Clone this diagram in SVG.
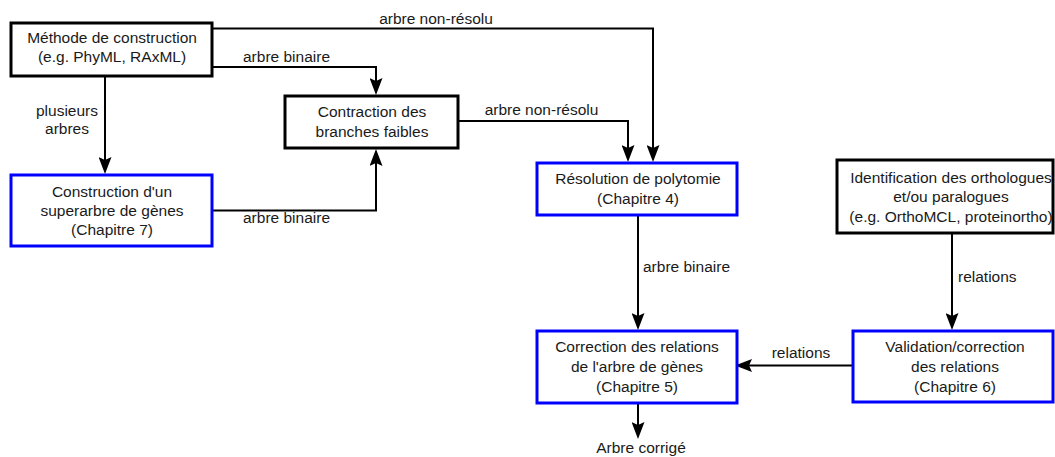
<svg xmlns="http://www.w3.org/2000/svg" width="1055" height="457" viewBox="0 0 1055 457">
<style>
text{font-family:"Liberation Sans",Arial,sans-serif;font-size:15.5px;fill:#1a1a1a}
.c{text-anchor:middle}
.bk{fill:#fff;stroke:#000;stroke-width:3}
.bl{fill:#fff;stroke:#0000ff;stroke-width:3}
.e{fill:none;stroke:#000;stroke-width:2;marker-end:url(#arr)}
</style>
<defs>
<marker id="arr" markerUnits="userSpaceOnUse" viewBox="0 0 17 13" markerWidth="17" markerHeight="13" refX="3" refY="6.5" orient="auto">
<path d="M17,6.5 L0,0 L3,6.5 L0,13 Z" fill="#000"/>
</marker>
</defs>
<rect width="1055" height="457" fill="#fff"/>
<g id="connectors">
<path class="e" d="M212,28.5 H653 V148"/>
<path class="e" d="M212,67 H376 V81"/>
<path class="e" d="M105,76 V160"/>
<path class="e" d="M212,210.5 H376 V163"/>
<path class="e" d="M458,121 H628 V148"/>
<path class="e" d="M638,215 V316"/>
<path class="e" d="M638,403 V425"/>
<path class="e" d="M952,233 V316"/>
<path class="e" d="M853,365.5 H749"/>
<text class="c" x="436" y="23.5">arbre non-résolu</text>
<text class="c" x="286.5" y="62">arbre binaire</text>
<text class="c" x="67" y="115.5">plusieurs</text>
<text class="c" x="67" y="134">arbres</text>
<text class="c" x="286.5" y="223">arbre binaire</text>
<text class="c" x="541.5" y="115">arbre non-résolu</text>
<text x="643" y="271.5">arbre binaire</text>
<text x="958" y="281.5">relations</text>
<text class="c" x="801" y="358">relations</text>
<text class="c" x="641" y="452.5">Arbre corrigé</text>
</g>
<g id="methode">
<rect class="bk" x="11" y="23" width="201" height="53"/>
<text class="c" x="112" y="42.5">Méthode de construction</text>
<text class="c" x="112" y="62">(e.g. PhyML, RAxML)</text>
</g>
<g id="contraction">
<rect class="bk" x="285" y="96" width="173" height="52"/>
<text class="c" x="372" y="117">Contraction des</text>
<text class="c" x="372" y="136.5">branches faibles</text>
</g>
<g id="superarbre">
<rect class="bl" x="11" y="175" width="201" height="71"/>
<text class="c" x="112" y="196.5">Construction d'un</text>
<text class="c" x="112" y="216">superarbre de gènes</text>
<text class="c" x="112" y="235">(Chapitre 7)</text>
</g>
<g id="resolution">
<rect class="bl" x="537" y="163" width="200" height="52"/>
<text class="c" x="638" y="184">Résolution de polytomie</text>
<text class="c" x="638" y="203.5">(Chapitre 4)</text>
</g>
<g id="correction">
<rect class="bl" x="537" y="331" width="200" height="72"/>
<text class="c" x="637" y="352">Correction des relations</text>
<text class="c" x="637" y="372">de l'arbre de gènes</text>
<text class="c" x="637" y="391.5">(Chapitre 5)</text>
</g>
<g id="identification">
<rect class="bk" x="837" y="160" width="216" height="73"/>
<text class="c" x="951" y="182.5">Identification des orthologues</text>
<text class="c" x="951" y="202">et/ou paralogues</text>
<text class="c" x="951" y="221.5">(e.g. OrthoMCL, proteinortho)</text>
</g>
<g id="validation">
<rect class="bl" x="853" y="331" width="200" height="71"/>
<text class="c" x="955" y="351.5">Validation/correction</text>
<text class="c" x="955" y="371.5">des relations</text>
<text class="c" x="955" y="391.5">(Chapitre 6)</text>
</g>
</svg>
